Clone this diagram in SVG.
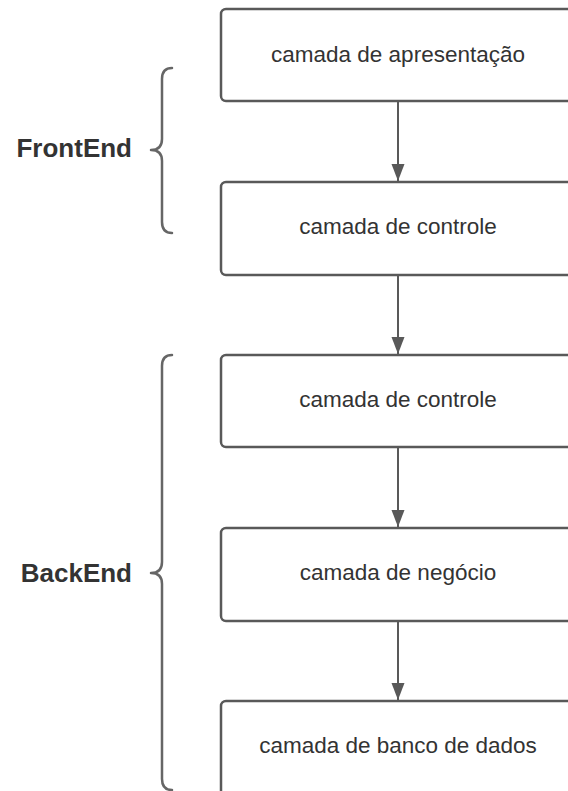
<svg xmlns="http://www.w3.org/2000/svg" width="568" height="791" viewBox="0 0 568 791">
  <style>
    .box { fill: #ffffff; stroke: #595959; stroke-width: 2.5; }
    .label { font-family: "Liberation Sans", Arial, sans-serif; font-size: 22.5px; fill: #333333; text-anchor: middle; }
    .group { font-family: "Liberation Sans", Arial, sans-serif; font-size: 26px; font-weight: bold; fill: #333333; text-anchor: end; }
    .brace { fill: none; stroke: #666666; stroke-width: 2.5; stroke-linecap: round; stroke-linejoin: round; }
    .edge { fill: none; stroke: #595959; stroke-width: 2; }
  </style>
  <defs>
    <marker id="arrow" markerUnits="userSpaceOnUse" markerWidth="18" markerHeight="14" refX="17" refY="6.5" orient="auto">
      <path d="M0,0 L17,6.5 L0,13 Z" fill="#595959"/>
    </marker>
  </defs>
  <rect width="568" height="791" fill="#ffffff"/>

  <!-- group labels with braces -->
  <g id="frontend">
    <text class="group" x="132" y="157">FrontEnd</text>
    <path class="brace" d="M172,68 Q162,68 162,79 L162,139 Q162,150 151,150 Q162,150 162,161 L162,222 Q162,233 172,233"/>
  </g>
  <g id="backend">
    <text class="group" x="132" y="582">BackEnd</text>
    <path class="brace" d="M172,355 Q162,355 162,366 L162,562 Q162,573 151,573 Q162,573 162,584 L162,779 Q162,790 172,790"/>
  </g>

  <!-- layers -->
  <g id="apresentacao">
    <rect class="box" x="221" y="9" width="360" height="92" rx="5"/>
    <text class="label" x="398" y="62">camada de apresentação</text>
  </g>
  <g id="controle-front">
    <rect class="box" x="221" y="182" width="360" height="93" rx="5"/>
    <text class="label" x="398" y="234">camada de controle</text>
  </g>
  <g id="controle-back">
    <rect class="box" x="221" y="355" width="360" height="92" rx="5"/>
    <text class="label" x="398" y="407">camada de controle</text>
  </g>
  <g id="negocio">
    <rect class="box" x="221" y="528" width="360" height="93" rx="5"/>
    <text class="label" x="398" y="580">camada de negócio</text>
  </g>
  <g id="banco">
    <rect class="box" x="221" y="701" width="360" height="100" rx="5"/>
    <text class="label" x="398" y="753">camada de banco de dados</text>
  </g>

  <!-- connectors -->
  <g id="connectors">
    <path class="edge" d="M398,102 L398,181" marker-end="url(#arrow)"/>
    <path class="edge" d="M398,276 L398,354" marker-end="url(#arrow)"/>
    <path class="edge" d="M398,448 L398,527" marker-end="url(#arrow)"/>
    <path class="edge" d="M398,622 L398,700" marker-end="url(#arrow)"/>
  </g>
</svg>
